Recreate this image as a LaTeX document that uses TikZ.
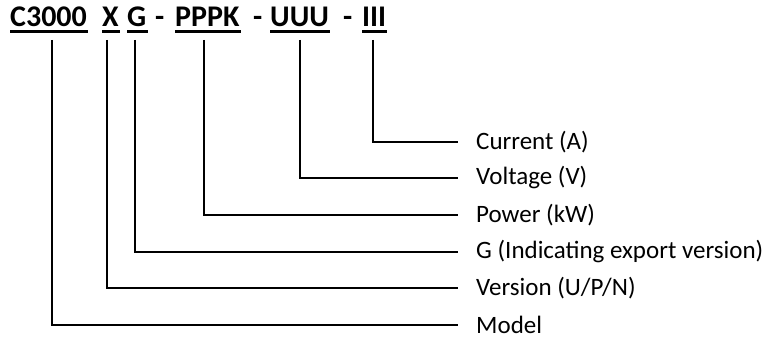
\documentclass[tikz,border=0pt]{standalone}
\usepackage{fontspec}
\setmainfont{Carlito}
\begin{document}
\begin{tikzpicture}[x=1pt,y=-1pt,
  part/.style={anchor=base west,inner sep=0pt,font=\fontsize{30}{32}\selectfont\bfseries},
  lab/.style={anchor=west,inner xsep=18pt,inner ysep=0pt,font=\fontsize{25}{27}\selectfont},
  lead/.style={line width=2pt},
  uline/.style={line width=2.4pt}]
\useasboundingbox (0,0) rectangle (766,339);
% title parts
\node[part] (c3000) at (10,27) {C3000};
\node[part] (x) at (102,27) {X};
\node[part] (g) at (127,27) {G};
\node[part] (d1) at (155,27) {-};
\node[part] (pppk) at (175,27) {PPPK};
\node[part] (d2) at (253,27) {-};
\node[part] (uuu) at (270,27) {UUU};
\node[part] (d3) at (343,27) {-};
\node[part] (iii) at (362,27) {III};
\foreach \n in {c3000,x,g,pppk,uuu,iii}{
  \draw[uline] ([yshift=-4.5]\n.base west) -- ([yshift=-4.5,xshift=1]\n.base east);
}
% labels
\node[lab] (cur) at (458,142) {Current (A)};
\node[lab] (vol) at (458,178) {Voltage (V)};
\node[lab] (pow) at (458,215) {Power (kW)};
\node[lab] (gexp) at (458,252) {G (Indicating export version)};
\node[lab] (ver) at (458,288) {Version (U/P/N)};
\node[lab] (mod) at (458,325) {Model};
% leaders
\draw[lead] ([xshift=-1,yshift=-13]iii.base) |- (cur.west);
\draw[lead] ([yshift=-13]uuu.base) |- (vol.west);
\draw[lead] ([xshift=-3,yshift=-13]pppk.base) |- (pow.west);
\draw[lead] ([xshift=-2,yshift=-13]g.base) |- (gexp.west);
\draw[lead] ([xshift=-3,yshift=-13]x.base) |- (ver.west);
\draw[lead] ([xshift=3.5,yshift=-13]c3000.base) |- (mod.west);
\end{tikzpicture}
\end{document}
